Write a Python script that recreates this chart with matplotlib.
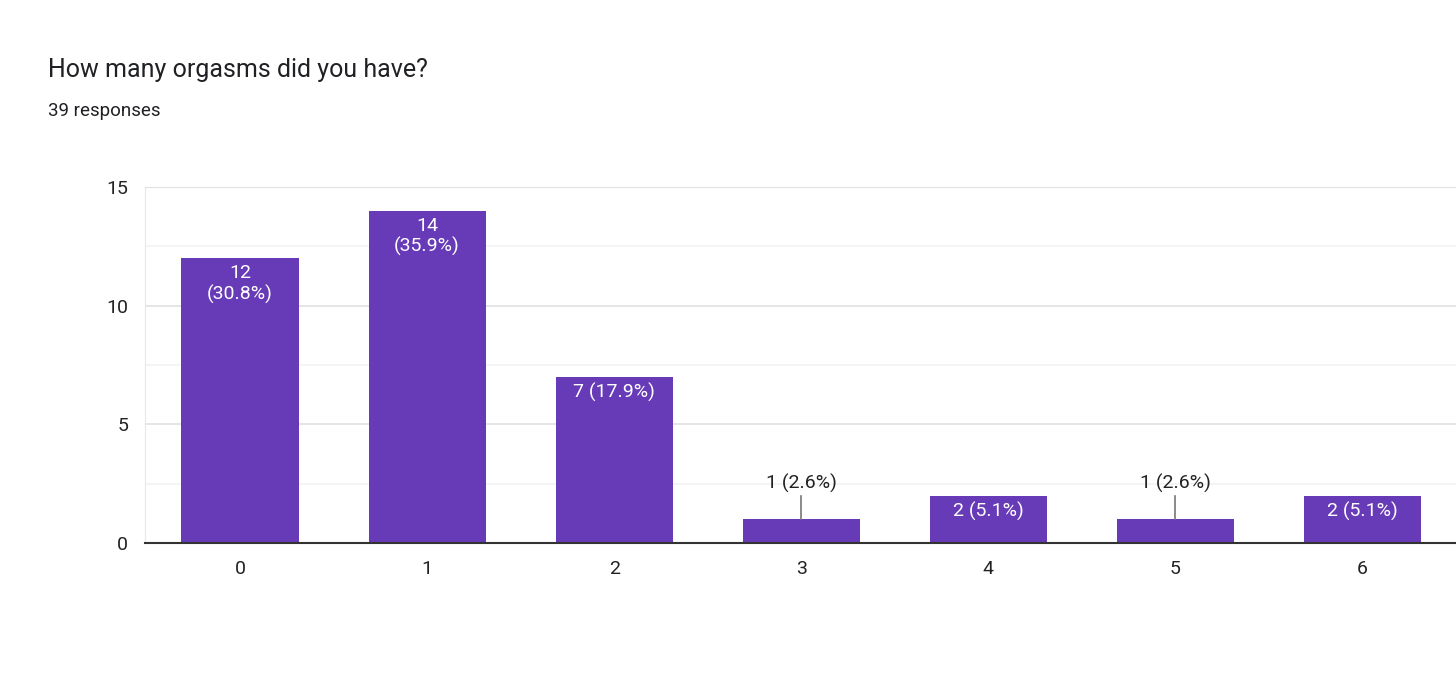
import matplotlib.pyplot as plt
import numpy as np

plt.rcParams['font.family'] = ['Roboto', 'DejaVu Sans']

categories = ['0', '1', '2', '3', '4', '5', '6']
counts = [12, 14, 7, 1, 2, 1, 2]
total = 39
title = 'How many orgasms did you have?'
subtitle = '39 responses'

purple = '#673ab7'

fig = plt.figure(figsize=(14.56, 6.91), dpi=100)
ax = fig.add_axes([145 / 1456, 148 / 691, 1311 / 1456, 356 / 691])

x = np.arange(len(categories))
ax.bar(x, counts, width=0.626, color=purple, zorder=3)

ax.set_xlim(-0.508, 6.5)
ax.set_ylim(0, 15)
ax.set_yticks([0, 5, 10, 15])
ax.set_yticks([2.5, 7.5, 12.5], minor=True)
ax.set_xticks(x)
ax.set_xticklabels(categories)
ax.tick_params(axis='both', which='both', length=0, labelsize=14, colors='#222222', pad=12)
ax.grid(axis='y', which='major', color='#e0e0e0', lw=1.2, zorder=0)
ax.grid(axis='y', which='minor', color='#f2f2f2', lw=1.2, zorder=0)
for s in ['left', 'right']:
    ax.spines[s].set_visible(False)
ax.spines['top'].set_color('#e0e0e0')
ax.spines['left'].set_visible(True)
ax.spines['left'].set_color('#e8e8e8')
ax.spines['bottom'].set_color('#333333')
ax.spines['bottom'].set_linewidth(1.5)
ax.spines['bottom'].set_zorder(4)

for xi, c in zip(x, counts):
    pct = f'({c / total * 100:.1f}%)'
    if c >= 10:
        ax.text(xi, c - 0.25, f'{c}\n{pct}', ha='center', va='top', color='white',
                fontsize=14, linespacing=1.15, zorder=5)
    elif c >= 2:
        ax.text(xi, c - 0.25, f'{c} {pct}', ha='center', va='top', color='white',
                fontsize=14, zorder=5)
    else:
        ax.plot([xi, xi], [c, c + 1], color='#777777', lw=1.2, zorder=5)
        ax.text(xi, c + 1.1, f'{c} {pct}', ha='center', va='bottom', color='#222222',
                fontsize=14, zorder=5)

fig.text(48 / 1456, 1 - 70 / 691, title, fontsize=18, color='#202124', va='center')
fig.text(48 / 1456, 1 - 111 / 691, subtitle, fontsize=13.5, color='#202124', va='center')

fig.savefig('out.png', dpi=100, facecolor='white')
